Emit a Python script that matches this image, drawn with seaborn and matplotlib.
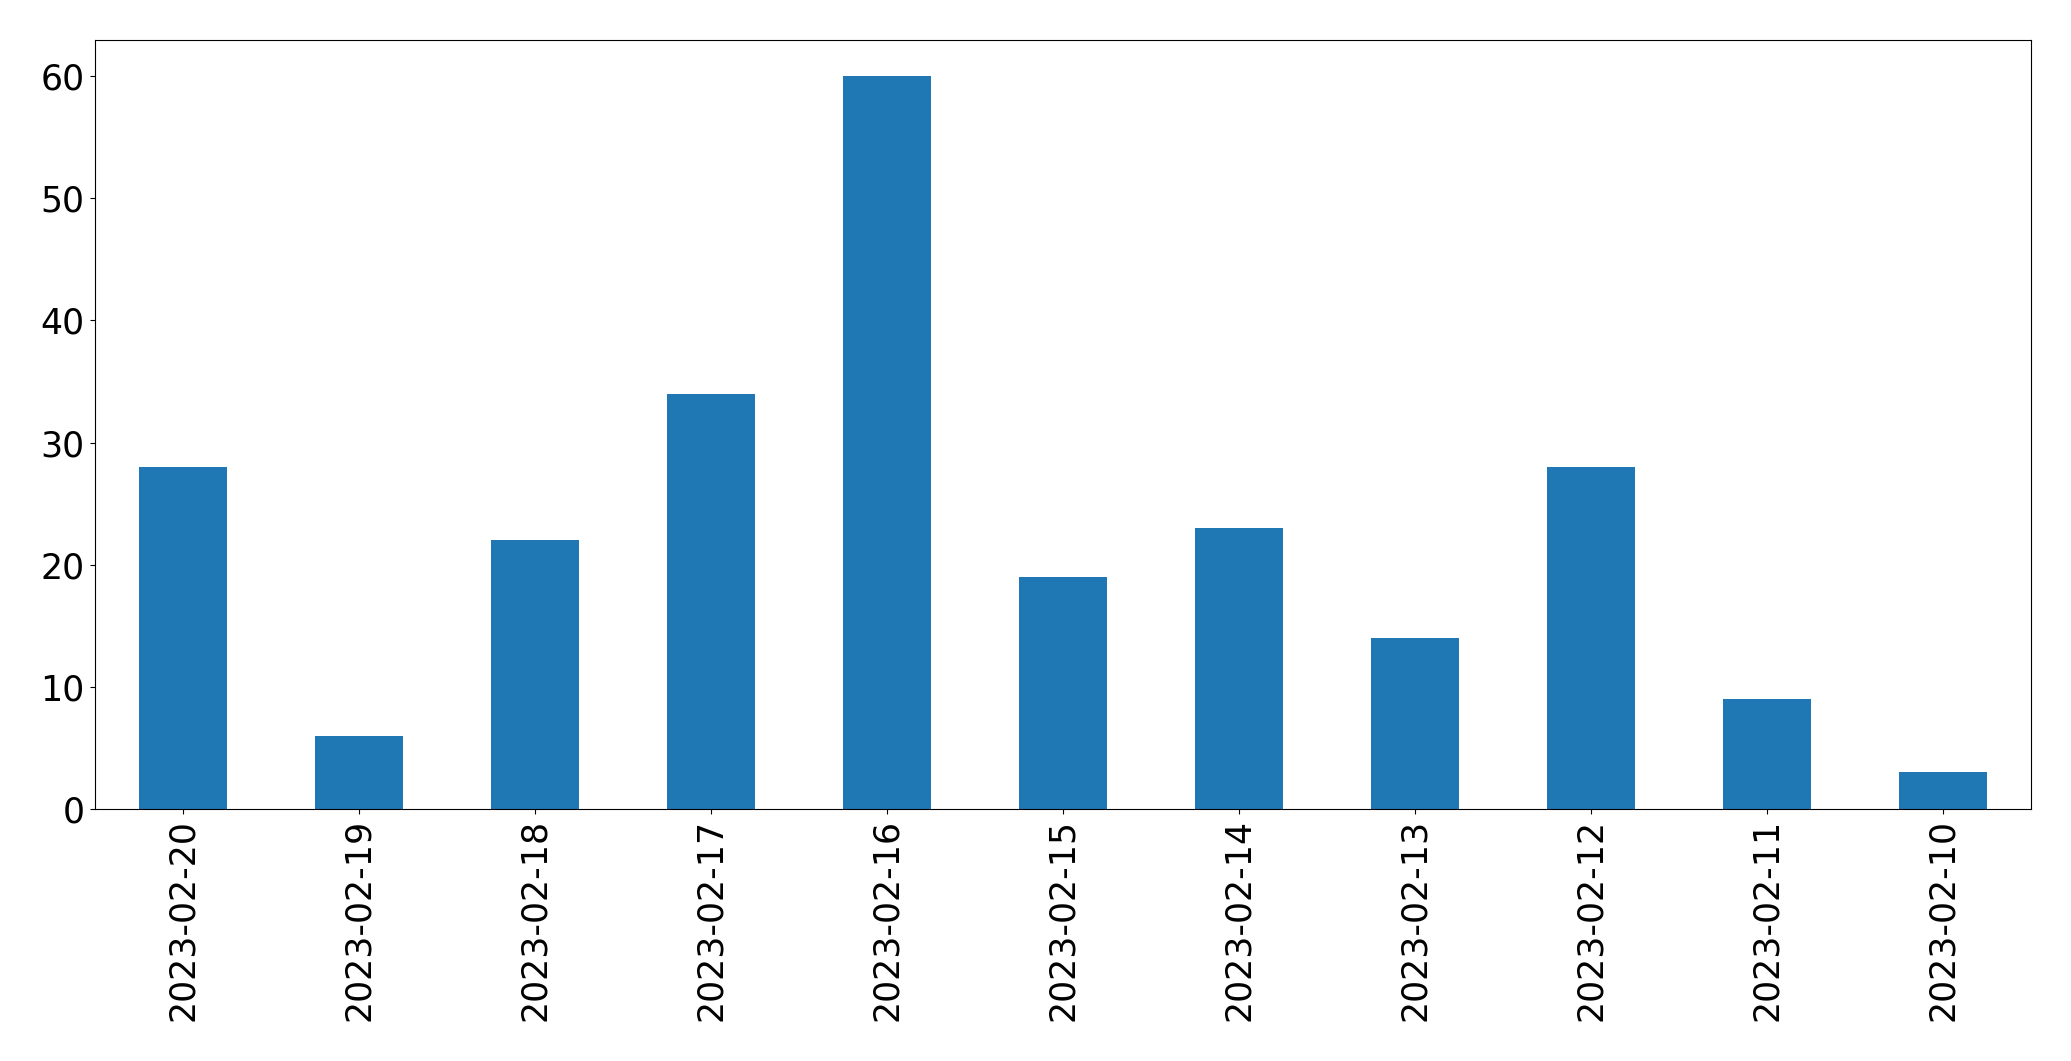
import pandas as pd
import matplotlib
matplotlib.use('Agg')
import matplotlib.pyplot as plt
import seaborn as sns

dates = ['2023-02-20', '2023-02-19', '2023-02-18', '2023-02-17', '2023-02-16', '2023-02-15',
         '2023-02-14', '2023-02-13', '2023-02-12', '2023-02-11', '2023-02-10']
counts = [28, 6, 22, 34, 60, 19, 23, 14, 28, 9, 3]

df = pd.DataFrame({'date': dates, 'count': counts})

fig, ax = plt.subplots(figsize=(20.71, 10.61), dpi=100)
sns.barplot(x='date', y='count', data=df, order=dates, color='#1f77b4',
            saturation=1, width=0.5, ax=ax)
ax.set_xlim(-0.5, len(dates) - 0.5)
ax.set_ylim(0, max(counts) * 1.05)
ax.set_xlabel('')
ax.set_ylabel('')
ax.tick_params(axis='both', labelsize=25)
ax.tick_params(axis='x', labelrotation=90)
fig.subplots_adjust(left=94.5 / 2071, right=2031 / 2071, top=1 - 39.5 / 1061, bottom=1 - 809 / 1061)
fig.savefig('out.png', dpi=100)
